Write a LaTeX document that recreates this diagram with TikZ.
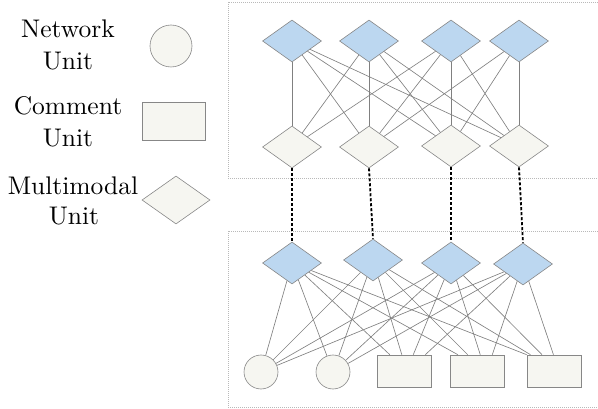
\documentclass[tikz,border=0pt]{standalone}
\usepackage{fontspec}
\newfontfamily\legendfont{lmroman10-regular}[Extension=.otf]
\usetikzlibrary{shapes.geometric,calc}

\definecolor{unitblue}{RGB}{188,215,240}
\definecolor{unitgray}{RGB}{246,246,241}
\definecolor{unitedge}{RGB}{135,135,135}
\definecolor{linkgray}{RGB}{128,128,128}
\definecolor{panelgray}{RGB}{185,185,185}

\tikzset{
  panel/.style={draw=panelgray, line width=0.5pt, dash pattern=on 1pt off 1pt},
  mmblue/.style={diamond, draw=unitedge, fill=unitblue, line width=0.6pt,
    minimum width=59pt, minimum height=42pt, inner sep=0pt},
  mmgray/.style={diamond, draw=unitedge, fill=unitgray, line width=0.6pt,
    minimum width=59pt, minimum height=42pt, inner sep=0pt},
  netunit/.style={circle, draw=unitedge, fill=unitgray, line width=0.6pt,
    minimum size=34pt, inner sep=0pt},
  comunit/.style={rectangle, draw=unitedge, fill=unitgray, line width=0.6pt,
    minimum width=54pt, minimum height=32pt, inner sep=0pt},
  link/.style={draw=linkgray, line width=0.65pt},
  bridge/.style={draw=black, line width=1.8pt, dash pattern=on 3pt off 2pt},
  legtext/.style={anchor=base, inner sep=0pt,
    font=\legendfont\fontsize{25.5}{32}\selectfont}
}

\begin{document}
\begin{tikzpicture}[x=1pt, y=-1pt]
\useasboundingbox (0,0) rectangle (598,409);

% panels
\draw[panel] (228,2) rectangle (602,178);
\draw[panel] (228,231) rectangle (602,407);

% legend
\node[legtext] (lg1a) at (68,38) {Network};
\node[legtext] (lg1b) at (68,70) {Unit};
\node[legtext] (lg2a) at (68,115) {Comment};
\node[legtext] (lg2b) at (68,147) {Unit};
\node[legtext] (lg3a) at (73,195) {Multimodal};
\node[legtext] (lg3b) at (74,225) {Unit};
\node[netunit, minimum size=42pt] (lgc) at (171,46) {};
\node[comunit, minimum width=63pt, minimum height=38pt] (lgr) at (173.5,121) {};
\node[mmgray, minimum width=68pt, minimum height=48pt] (lgd) at (176,200) {};

% upper panel
\node[mmblue] (T1) at (292,41) {};
\node[mmblue] (T2) at (369,41) {};
\node[mmblue] (T3) at (451,41) {};
\node[mmblue] (T4) at (519,41) {};
\node[mmgray] (B1) at (292,147) {};
\node[mmgray] (B2) at (369,147) {};
\node[mmgray] (B3) at (451,146) {};
\node[mmgray] (B4) at (519,146) {};

\foreach \t/\b in {T1/B1,T1/B2,T1/B3,T1/B4,
                   T2/B1,T2/B2,T2/B3,T2/B4,
                   T3/B1,T3/B2,T3/B3,T3/B4,
                   T4/B2,T4/B3,T4/B4}
  \draw[link] (\t) -- (\b);

% lower panel
\node[mmblue] (D1) at (292,263) {};
\node[mmblue] (D2) at (373,260) {};
\node[mmblue] (D3) at (451,263) {};
\node[mmblue] (D4) at (523,264) {};
\node[netunit] (C1) at (261,372) {};
\node[netunit] (C2) at (333,372) {};
\node[comunit] (R1) at (404,371) {};
\node[comunit] (R2) at (477,371) {};
\node[comunit] (R3) at (554,371) {};

% connection points on the top edges of the comment units
\foreach \r/\fa/\fb/\fc/\fd in {R1/0.24/0.46/0.67/0.89,
                                R2/0.15/0.33/0.56/0.78,
                                R3/0.0/0.07/0.28/0.49}{
  \coordinate (\r a) at ($(\r.north west)!\fa!(\r.north east)$);
  \coordinate (\r b) at ($(\r.north west)!\fb!(\r.north east)$);
  \coordinate (\r c) at ($(\r.north west)!\fc!(\r.north east)$);
  \coordinate (\r d) at ($(\r.north west)!\fd!(\r.north east)$);
}

\foreach \d/\p in {D1/a,D2/b,D3/c,D4/d}{
  \draw[link] (\d) -- (C1);
  \draw[link] (\d) -- (C2);
  \draw[link] (\d) -- (R1\p);
  \draw[link] (\d) -- (R2\p);
  \draw[link] (\d) -- (R3\p);
}

% links between the two panels
\foreach \i in {1,2,3,4}
  \draw[bridge] (B\i.south) -- (D\i.north);
\end{tikzpicture}
\end{document}
